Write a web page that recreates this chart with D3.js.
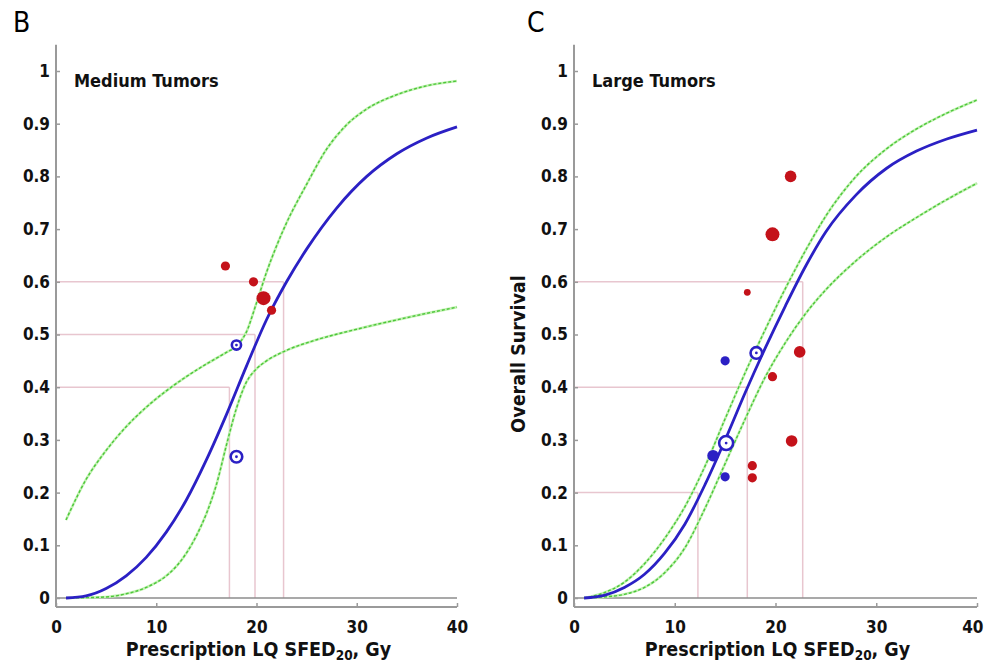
<!DOCTYPE html>
<html>
  <head>
    <meta charset="utf-8">
    <title>Overall survival vs prescription dose</title>
    <script type="text/javascript" src="https://d3js.org/d3.v7.min.js"></script>
    <style>
      body { margin: 0; background: #fff; }
      text { font-family: "DejaVu Sans Condensed", "DejaVu Sans", sans-serif; }
    </style>
  </head>
  <body>
    <div id="chart"></div>
    <script type="text/javascript">
        // ticks
        var xTicks = [0, 10, 20, 30, 40];
        var yTicks = [0, 0.1, 0.2, 0.3, 0.4, 0.5, 0.6, 0.7, 0.8, 0.9, 1];

        // panel B - medium tumors
        var bFitX = [1, 3, 5, 7, 9, 11, 13, 15, 17, 19, 21, 23, 25, 28, 31, 34, 37, 40];
        var bFitY = [0, 0.004, 0.018, 0.042, 0.077, 0.125, 0.186, 0.262, 0.348, 0.44, 0.528, 0.6, 0.662, 0.74, 0.8, 0.843, 0.873, 0.894];
        var bBandAX = [1, 3, 5, 7, 9, 11, 13, 15, 17, 18, 19, 20, 21, 22, 23, 25, 27, 29, 31, 34, 37, 40];
        var bBandAY = [0.148, 0.225, 0.28, 0.325, 0.362, 0.393, 0.42, 0.444, 0.466, 0.478, 0.505, 0.56, 0.618, 0.668, 0.712, 0.785, 0.852, 0.898, 0.928, 0.955, 0.972, 0.981];
        var bBandBX = [1, 5, 7, 9, 11, 12, 13, 14, 15, 16, 17, 18, 19, 20, 21, 23, 26, 30, 35, 40];
        var bBandBY = [0, 0.002, 0.008, 0.02, 0.042, 0.06, 0.085, 0.118, 0.16, 0.215, 0.29, 0.36, 0.41, 0.435, 0.45, 0.47, 0.49, 0.51, 0.532, 0.552];
        var bRedX = [16.9, 19.7, 20.7, 21.5];
        var bRedY = [0.63, 0.60, 0.569, 0.546];
        var bRedN = [2, 2, 4, 2];
        var bRingX = [18.0, 18.0];
        var bRingY = [0.48, 0.268];
        var bRingN = [2, 3];
        var bRefSurv = [0.4, 0.5, 0.6];
        var bRefDose = [17.3, 19.85, 22.7];

        // panel C - large tumors
        var cFitX = [1, 3, 5, 7, 9, 11, 13, 15, 17, 19, 21, 23, 25, 28, 31, 34, 37, 40];
        var cFitY = [0, 0.005, 0.02, 0.045, 0.085, 0.14, 0.215, 0.3, 0.39, 0.475, 0.555, 0.63, 0.695, 0.765, 0.815, 0.848, 0.871, 0.888];
        var cUpperY = [0, 0.01, 0.03, 0.065, 0.113, 0.173, 0.25, 0.34, 0.428, 0.51, 0.588, 0.66, 0.725, 0.8, 0.852, 0.89, 0.92, 0.945];
        var cLowerY = [0, 0.002, 0.007, 0.02, 0.048, 0.095, 0.17, 0.255, 0.34, 0.42, 0.485, 0.54, 0.585, 0.64, 0.685, 0.722, 0.756, 0.787];
        var cRedX = [21.5, 19.7, 17.2, 22.4, 19.7, 21.6, 17.7, 17.7];
        var cRedY = [0.80, 0.69, 0.58, 0.467, 0.42, 0.298, 0.251, 0.228];
        var cRedN = [3, 4, 1, 3, 2, 3, 2, 2];
        var cDotX = [15.0, 13.8, 15.0];
        var cDotY = [0.45, 0.27, 0.23];
        var cDotN = [2, 3, 2];
        var cRingX = [18.1, 15.1];
        var cRingY = [0.465, 0.294];
        var cRingN = [3, 4];
        var cRefSurv = [0.2, 0.4, 0.6];
        var cRefDose = [12.3, 17.2, 22.7];

        var W = 984, H = 663;
        var blue = "#2b20c4", red = "#c4121a", pink = "#e8c6cf", axisGray = "#9a9a9a";

        var svg = d3.select("#chart").append("svg")
            .attr("width", W)
            .attr("height", H);

        var sizeScale = d3.scaleLinear().domain([1, 4]).range([3.4, 7]);

        function zip(xs, ys) {
            return xs.map(function(d, i) { return [d, ys[i]]; });
        }

        function drawPanel(p) {
            var x = d3.scaleLinear().domain([0, 40]).range([p.left, p.right]);
            var y = d3.scaleLinear().domain([0, 1]).range([598, 71]);
            var g = svg.append("g");

            // panel letter
            g.append("text")
                .attr("x", p.letterX).attr("y", 32)
                .style("font-size", "28px")
                .text(p.letter);

            // reference lines
            p.refSurv.forEach(function(s, i) {
                g.append("line")
                    .attr("x1", x(0)).attr("x2", x(p.refDose[i]))
                    .attr("y1", y(s)).attr("y2", y(s))
                    .attr("stroke", pink).attr("stroke-width", 1.5);
                g.append("line")
                    .attr("x1", x(p.refDose[i])).attr("x2", x(p.refDose[i]))
                    .attr("y1", y(0)).attr("y2", y(s))
                    .attr("stroke", pink).attr("stroke-width", 1.5);
            });

            // zero line
            g.append("line")
                .attr("x1", x(0)).attr("x2", x(40))
                .attr("y1", y(0)).attr("y2", y(0))
                .attr("stroke", "#8c8c8c").attr("stroke-width", 1.5);

            // axes
            var yAxis = g.append("g")
                .attr("transform", "translate(" + x(0) + ",0)")
                .call(d3.axisLeft(y).tickValues(yTicks).tickFormat(d3.format("~g"))
                    .tickSize(-4).tickPadding(6));
            var xAxis = g.append("g")
                .attr("transform", "translate(0,607)")
                .call(d3.axisBottom(x).tickValues(xTicks).tickFormat(d3.format("d"))
                    .tickSize(-4).tickPadding(14));
            [yAxis, xAxis].forEach(function(a) {
                a.select(".domain").remove();
                a.selectAll(".tick line").attr("stroke", axisGray).attr("stroke-width", 1.5);
                a.selectAll(".tick text")
                    .attr("fill", "#111")
                    .style("font-family", "'DejaVu Sans Condensed', sans-serif")
                    .style("font-weight", "bold")
                    .style("font-size", "17px");
            });
            // keep the last x label inside the page
            if (p.right > W - 12) {
                xAxis.selectAll(".tick text")
                    .filter(function(d) { return d === 40; })
                    .attr("text-anchor", "end")
                    .attr("x", W - 1 - p.right);
            }
            g.append("line")
                .attr("x1", x(0)).attr("x2", x(0))
                .attr("y1", y(1.05)).attr("y2", 607)
                .attr("stroke", axisGray).attr("stroke-width", 2);
            g.append("line")
                .attr("x1", x(0)).attr("x2", x(40))
                .attr("y1", 607).attr("y2", 607)
                .attr("stroke", axisGray).attr("stroke-width", 2);

            // curves
            var line = d3.line()
                .x(function(d) { return x(d[0]); })
                .y(function(d) { return y(d[1]); })
                .curve(d3.curveMonotoneX);
            p.bands.forEach(function(b) {
                g.append("path").datum(b).attr("d", line)
                    .attr("fill", "none").attr("stroke", "#c4f2b4").attr("stroke-width", 2.6);
                g.append("path").datum(b).attr("d", line)
                    .attr("fill", "none").attr("stroke", "#4cc63a").attr("stroke-width", 1.4)
                    .attr("stroke-dasharray", "3,2");
            });
            g.append("path").datum(p.fit).attr("d", line)
                .attr("fill", "none").attr("stroke", blue).attr("stroke-width", 2.8);

            // markers
            g.selectAll(".red").data(p.red).enter().append("circle")
                .attr("cx", function(d) { return x(d[0]); })
                .attr("cy", function(d) { return y(d[1]); })
                .attr("r", function(d) { return sizeScale(d[2]); })
                .attr("fill", red);
            g.selectAll(".dot").data(p.dots).enter().append("circle")
                .attr("cx", function(d) { return x(d[0]); })
                .attr("cy", function(d) { return y(d[1]); })
                .attr("r", function(d) { return sizeScale(d[2]); })
                .attr("fill", blue);
            g.selectAll(".ring").data(p.rings).enter().append("circle")
                .attr("cx", function(d) { return x(d[0]); })
                .attr("cy", function(d) { return y(d[1]); })
                .attr("r", function(d) { return sizeScale(d[2]); })
                .attr("fill", "#fff").attr("stroke", blue).attr("stroke-width", 2.6);
            g.selectAll(".ringc").data(p.rings).enter().append("circle")
                .attr("cx", function(d) { return x(d[0]); })
                .attr("cy", function(d) { return y(d[1]); })
                .attr("r", 1.4)
                .attr("fill", blue);

            // in-plot label
            g.append("text")
                .attr("x", x(0) + 18).attr("y", 87)
                .style("font-size", "18px").style("font-weight", "bold")
                .attr("fill", "#111")
                .text(p.title);

            // x title
            var t = g.append("text")
                .attr("x", (p.left + p.right) / 2 + 2).attr("y", 656)
                .attr("text-anchor", "middle")
                .style("font-size", "19.5px").style("font-weight", "bold")
                .attr("fill", "#111");
            t.append("tspan").text("Prescription LQ SFED");
            t.append("tspan").attr("dy", 4).style("font-size", "13.5px").text("20");
            t.append("tspan").attr("dy", -4).text(", Gy");

            if (p.yTitle) {
                g.append("text")
                    .attr("transform", "translate(525,354) rotate(-90)")
                    .attr("text-anchor", "middle")
                    .style("font-size", "19.5px").style("font-weight", "bold")
                    .attr("fill", "#111")
                    .text(p.yTitle);
            }
        }

        drawPanel({
            letter: "B", letterX: 13, left: 56, right: 457,
            title: "Medium Tumors",
            refSurv: bRefSurv, refDose: bRefDose,
            fit: zip(bFitX, bFitY),
            bands: [zip(bBandAX, bBandAY), zip(bBandBX, bBandBY)],
            red: bRedX.map(function(d, i) { return [d, bRedY[i], bRedN[i]]; }),
            dots: [],
            rings: bRingX.map(function(d, i) { return [d, bRingY[i], bRingN[i]]; })
        });

        drawPanel({
            letter: "C", letterX: 527, left: 574, right: 977,
            title: "Large Tumors", yTitle: "Overall Survival",
            refSurv: cRefSurv, refDose: cRefDose,
            fit: zip(cFitX, cFitY),
            bands: [zip(cFitX, cUpperY), zip(cFitX, cLowerY)],
            red: cRedX.map(function(d, i) { return [d, cRedY[i], cRedN[i]]; }),
            dots: cDotX.map(function(d, i) { return [d, cDotY[i], cDotN[i]]; }),
            rings: cRingX.map(function(d, i) { return [d, cRingY[i], cRingN[i]]; })
        });
    </script>
  </body>
</html>
